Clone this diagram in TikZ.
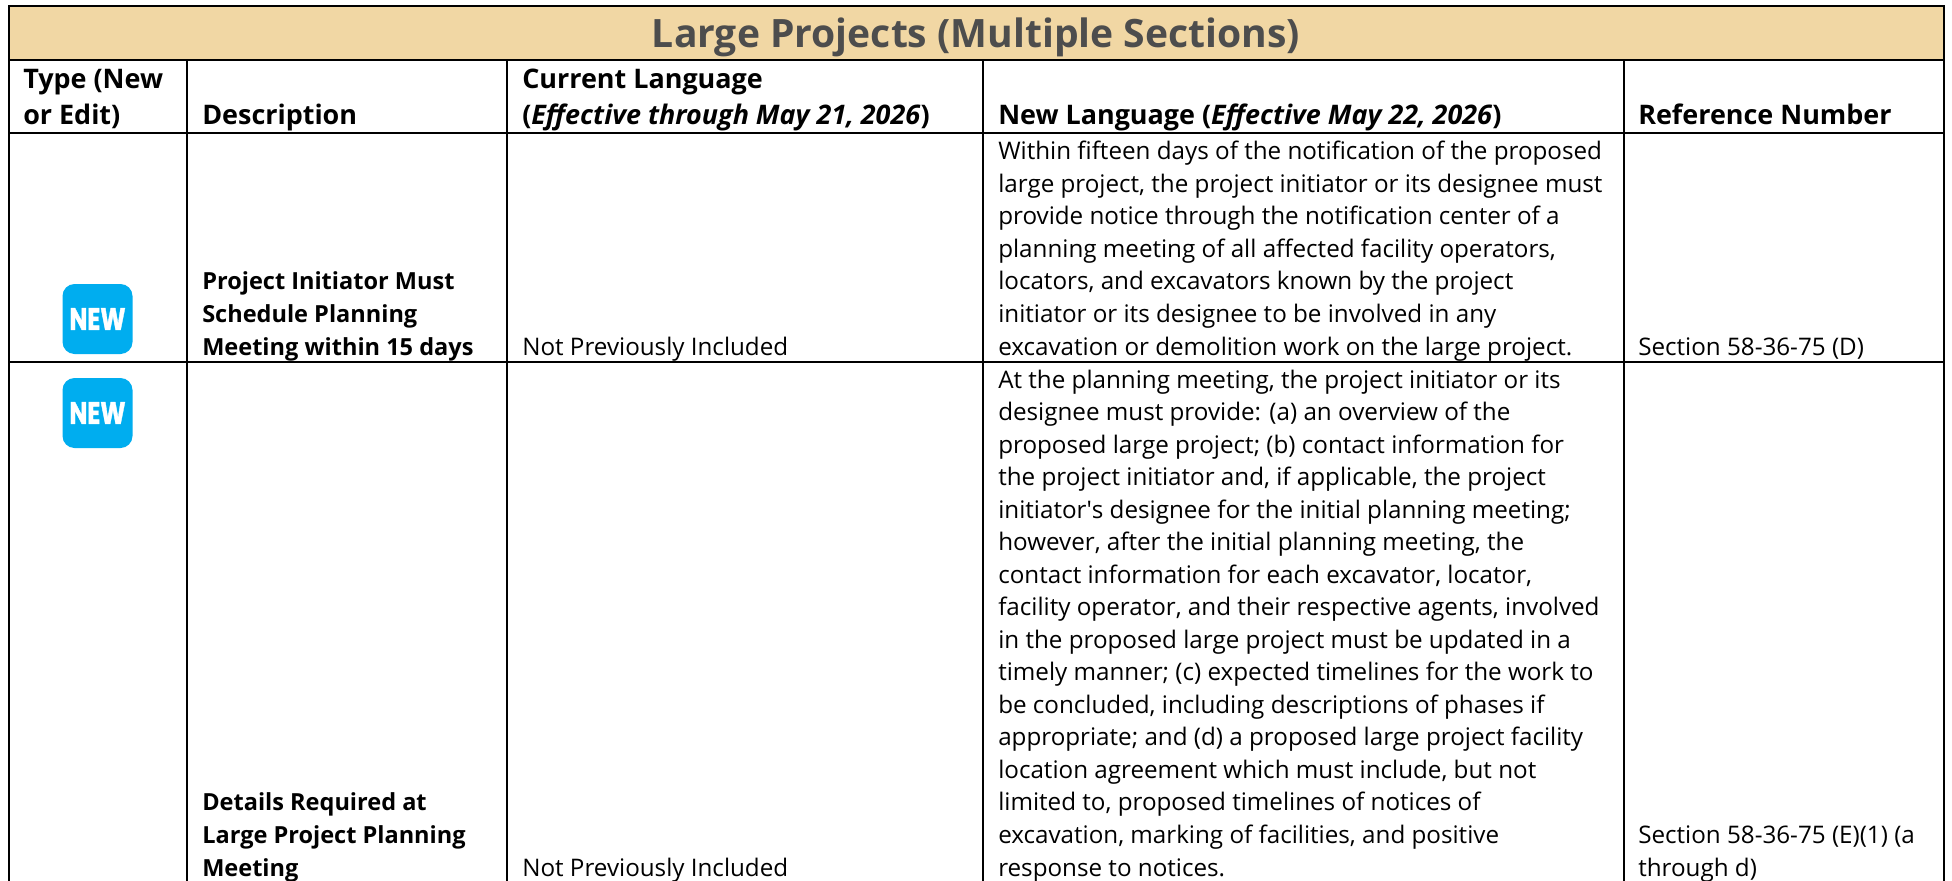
\documentclass[tikz,border=0pt]{standalone}
\usepackage{fontspec}
\setmainfont{Open Sans}
\newfontfamily\plainface{Open Sans}
\newfontfamily\newbadge[FakeBold=1.5]{Poppins}
\definecolor{titlefill}{HTML}{F1D7A4}
\definecolor{titleink}{HTML}{4D4D4D}
\definecolor{badge}{HTML}{00ADEF}
\tikzset{
  rule/.style={draw=black,line width=2.1pt},
  thinrule/.style={draw=black,line width=1.6pt},
  bodycell/.style={anchor=base west,inner sep=0pt,align=left,text=black,font=\fontsize{18.15}{24.4}\selectfont},
  boldcell/.style={bodycell,font=\fontsize{17.65}{24.4}\selectfont\bfseries},
  headcell/.style={anchor=base west,inner sep=0pt,align=left,text=black,font=\fontsize{20.2}{27}\selectfont\bfseries},
  titlecell/.style={anchor=base,inner sep=0pt,text=titleink,font=\fontsize{29.3}{32}\selectfont\bfseries},
  badgebox/.style={fill=badge,rounded corners=9pt,minimum width=52.5pt,minimum height=52.5pt,inner sep=0pt,text=white,font=\newbadge\fontsize{23.3}{24}\selectfont\bfseries},
}
\begin{document}
\begin{tikzpicture}[x=0.75pt,y=-0.75pt]
\useasboundingbox (0,0) rectangle (1952,881);
\fill[white] (0,0) rectangle (1952,881);
\fill[titlefill] (9,6) rectangle (1944,60);
% table rules
\draw[rule] (9,890) -- (9,6) -- (1944,6) -- (1944,890);
\draw[rule] (9,60) -- (1944,60);
\draw[rule] (9,133) -- (1944,133);
\draw[rule] (9,362) -- (1944,362);
\foreach \cx in {187,507,983,1624} {\draw[thinrule] (\cx,60) -- (\cx,890);}
% title
\node[titlecell] (title) at (976,47.5) {Large Projects (Multiple Sections)};
% header row
\node[headcell] (h1) at (23,124) {Type (New\\or Edit)};
\node[headcell] (h2) at (202,124) {Description};
\node[headcell] (h3) at (522,124) {Current Language\\(\textit{Effective through May 21, 2026})};
\node[headcell] (h4) at (998,124) {New Language (\textit{Effective May 22, 2026})};
\node[headcell] (h5) at (1638,124) {Reference Number};
% row 1
\node[badgebox] (new1) at (97.5,319) {\scalebox{0.77}[1]{NEW}};
\node[boldcell] (d1) at (202,355) {Project Initiator Must\\Schedule Planning\\Meeting within 15 days};
\node[bodycell] (c1) at (522,355) {Not Previously Included};
\node[bodycell] (n1) at (998,355) {Within fifteen days of the notification of the proposed\\large project, the project initiator or its designee must\\provide notice through the notification center of a\\planning meeting of all affected facility operators,\\locators, and excavators known by the project\\initiator or its designee to be involved in any\\excavation or demolition work on the large project.};
\node[bodycell] (r1) at (1638,355) {Section 58-36-75 (D)};
% row 2
\node[badgebox] (new2) at (97.5,413) {\scalebox{0.77}[1]{NEW}};
\node[boldcell] (d2) at (202,876) {Details Required at\\Large Project Planning\\Meeting};
\node[bodycell] (c2) at (522,876) {Not Previously Included};
\node[bodycell] (n2) at (998,876) {At the planning meeting, the project initiator or its\\designee must provide: (a) an overview of the\\proposed large project; (b) contact information for\\the project initiator and, if applicable, the project\\initiator{\plainface'}s designee for the initial planning meeting;\\however, after the initial planning meeting, the\\contact information for each excavator, locator,\\facility operator, and their respective agents, involved\\in the proposed large project must be updated in a\\timely manner; (c) expected timelines for the work to\\be concluded, including descriptions of phases if\\appropriate; and (d) a proposed large project facility\\location agreement which must include, but not\\limited to, proposed timelines of notices of\\excavation, marking of facilities, and positive\\response to notices.};
\node[bodycell] (r2) at (1638,876) {Section 58-36-75 (E)(1) (a\\through d)};
\end{tikzpicture}
\end{document}
